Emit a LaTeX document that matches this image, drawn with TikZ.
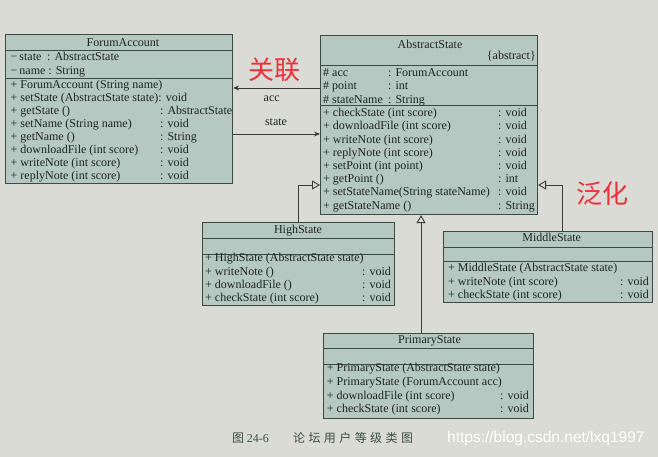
\documentclass[tikz,border=0pt]{standalone}
\usepackage{fontspec}
\setmainfont{Liberation Serif}
\setsansfont{Liberation Sans}
\newfontfamily\cjk{Noto Sans CJK SC}
\usetikzlibrary{arrows.meta}

\definecolor{paper}{RGB}{217,219,212}
\definecolor{classfill}{RGB}{181,200,194}
\definecolor{classline}{RGB}{62,72,68}
\definecolor{ink}{RGB}{30,36,34}
\definecolor{wire}{RGB}{55,60,58}
\definecolor{note}{RGB}{234,48,58}
\definecolor{capink}{RGB}{60,78,72}

\tikzset{
  classbox/.style={draw=classline, fill=classfill, line width=1.1pt, inner sep=0pt, anchor=north west},
  sep/.style={draw=classline, line width=0.9pt},
  member/.style={anchor=base west, inner sep=0pt, text=ink, font=\fontsize{12}{12}\selectfont},
  ctitle/.style={anchor=base, inner sep=0pt, text=ink, font=\fontsize{12}{12}\selectfont},
  assoc/.style={draw=wire, line width=0.9pt, -{Stealth[length=6pt,width=5pt]}},
  genline/.style={draw=wire, line width=0.9pt, -{Triangle[open,length=8pt,width=9pt]}},
  remark/.style={text=note, inner sep=0pt, font=\cjk\fontsize{26}{26}\selectfont},
  caption/.style={anchor=base west, inner sep=0pt, text=capink, font=\fontsize{12}{12}\selectfont},
}

% class box from its top-left to bottom-right corner
\newcommand\umlbox[5]{%
  \node[classbox, minimum width={#4-#2}, minimum height={#5-#3}] (#1) at (#2,#3) {};}
% separator line inside a class box
\newcommand\umlsep[3]{\draw[sep] (#1,#3) -- (#2,#3);}

\begin{document}
\begin{tikzpicture}[x=1pt,y=-1pt]
\useasboundingbox (0,0) rectangle (658,457);
\fill[paper] (0,0) rectangle (658,457);

% ---------------- ForumAccount ----------------
\umlbox{fa}{5}{34}{232}{183}
\umlsep{5}{232}{50}
\umlsep{5}{232}{78}
\node[ctitle] (fa-t) at (123,46.5) {ForumAccount};
\node[member] (fa-a1) at (10.5,60.5) {−\,state};
\node[member] (fa-a1t) at (47,60.5) {: AbstractState};
\node[member] (fa-a2) at (10.5,74.5) {−\,name : String};
\foreach \i/\y/\m/\r in {
  1/88.5/{+ ForumAccount (String name)}/{},
  2/101.5/{+ setState (AbstractState state): void}/{},
  3/114.4/{+ getState ()}/{: AbstractState},
  4/127.3/{+ setName (String name)}/{: void},
  5/140.3/{+ getName ()}/{: String},
  6/153.2/{+ downloadFile (int score)}/{: void},
  7/166.2/{+ writeNote (int score)}/{: void},
  8/179.1/{+ replyNote (int score)}/{: void}}{
  \node[member] (fa-m\i) at (10.5,\y) {\m};
  \node[member] (fa-r\i) at (160,\y) {\r};
}

% ---------------- AbstractState ----------------
\umlbox{as}{320}{35}{537}{214}
\umlsep{320}{537}{65}
\umlsep{320}{537}{105}
\node[ctitle] (as-t) at (430,48.5) {AbstractState};
\node[member, anchor=base east] (as-k) at (536,59.5) {\{abstract\}};
\foreach \i/\y/\m/\r in {
  1/76.7/{\# acc}/{: ForumAccount},
  2/90/{\# point}/{: int},
  3/103.3/{\# stateName}/{: String}}{
  \node[member] (as-a\i) at (323,\y) {\m};
  \node[member] (as-at\i) at (388,\y) {\r};
}
\foreach \i/\y/\m/\r in {
  1/116.7/{+ checkState (int score)}/{: void},
  2/129.9/{+ downloadFile (int score)}/{: void},
  3/143.1/{+ writeNote (int score)}/{: void},
  4/156.3/{+ replyNote (int score)}/{: void},
  5/169.5/{+ setPoint (int point)}/{: void},
  6/182.7/{+ getPoint ()}/{: int},
  7/195.9/{+ setStateName(String stateName)}/{: void},
  8/209.1/{+ getStateName ()}/{: String}}{
  \node[member] (as-m\i) at (323,\y) {\m};
  \node[member] (as-r\i) at (498,\y) {\r};
}

% ---------------- HighState ----------------
\umlbox{hs}{202}{222}{394}{305}
\umlsep{202}{394}{238}
\umlsep{202}{394}{254}
\node[ctitle] (hs-t) at (298,233.3) {HighState};
\foreach \i/\y/\m/\r in {
  1/261.7/{+ HighState (AbstractState state)}/{},
  2/275.5/{+ writeNote ()}/{: void},
  3/288.9/{+ downloadFile ()}/{: void},
  4/301.7/{+ checkState (int score)}/{: void}}{
  \node[member] (hs-m\i) at (205,\y) {\m};
  \node[member] (hs-r\i) at (362,\y) {\r};
}

% ---------------- MiddleState ----------------
\umlbox{ms}{443}{231}{652}{302}
\umlsep{443}{652}{247}
\umlsep{443}{652}{261}
\node[ctitle] (ms-t) at (551.7,241.7) {MiddleState};
\foreach \i/\y/\m/\r in {
  1/271/{+ MiddleState (AbstractState state)}/{},
  2/285/{+ writeNote (int score)}/{: void},
  3/298.3/{+ checkState (int score)}/{: void}}{
  \node[member] (ms-m\i) at (448,\y) {\m};
  \node[member] (ms-r\i) at (620,\y) {\r};
}

% ---------------- PrimaryState ----------------
\umlbox{ps}{323}{333}{533}{418}
\umlsep{323}{533}{348}
\umlsep{323}{533}{364}
\node[ctitle] (ps-t) at (429.5,343.3) {PrimaryState};
\foreach \i/\y/\m/\r in {
  1/371.7/{+ PrimaryState (AbstractState state)}/{},
  2/385.5/{+ PrimaryState (ForumAccount acc)}/{},
  3/399/{+ downloadFile (int score)}/{: void},
  4/412.3/{+ checkState (int score)}/{: void}}{
  \node[member] (ps-m\i) at (326.7,\y) {\m};
  \node[member] (ps-r\i) at (500,\y) {\r};
}

% ---------------- associations ----------------
\coordinate (accrow) at (0,88);
\coordinate (staterow) at (0,134);
\draw[assoc] (as.west |- accrow) -- (fa.east |- accrow);
\draw[assoc] (fa.east |- staterow) -- (as.west |- staterow);
\node[ctitle] (acc-l) at (271.7,101.7) {acc};
\node[ctitle] (state-l) at (276,126) {state};

% ---------------- generalizations ----------------
\coordinate (genrow) at (0,185);
\coordinate (pscol) at (421,0);
\coordinate (mscol) at (562,0);
\draw[genline] (hs.north) |- (as.west |- genrow);
\draw[genline] (ps.north -| pscol) -- (as.south -| pscol);
\draw[genline] (ms.north -| mscol) |- (as.east |- genrow);

% ---------------- notes ----------------
\node[remark] (assoc-note) at (274,70) {关联};
\node[remark] (gen-note) at (602,194) {泛化};

% ---------------- caption ----------------
\node[caption, font=\cjk\fontsize{12}{12}\selectfont] (cap-fig) at (232,442) {图};
\node[caption] (cap-num) at (246.7,442) {24-6};
\node[caption, font=\cjk\fontsize{12}{12}\selectfont] (cap-title) at (293,442)
  {论\hspace{3.4pt}坛\hspace{3.4pt}用\hspace{3.4pt}户\hspace{3.4pt}等\hspace{3.4pt}级\hspace{3.4pt}类\hspace{3.4pt}图};
\node[anchor=base west, inner sep=0pt, text=white, font=\sffamily\fontsize{15.5}{15.5}\selectfont]
  (mark) at (447,442.3) {https://blog.csdn.net/lxq1997};
\end{tikzpicture}
\end{document}
